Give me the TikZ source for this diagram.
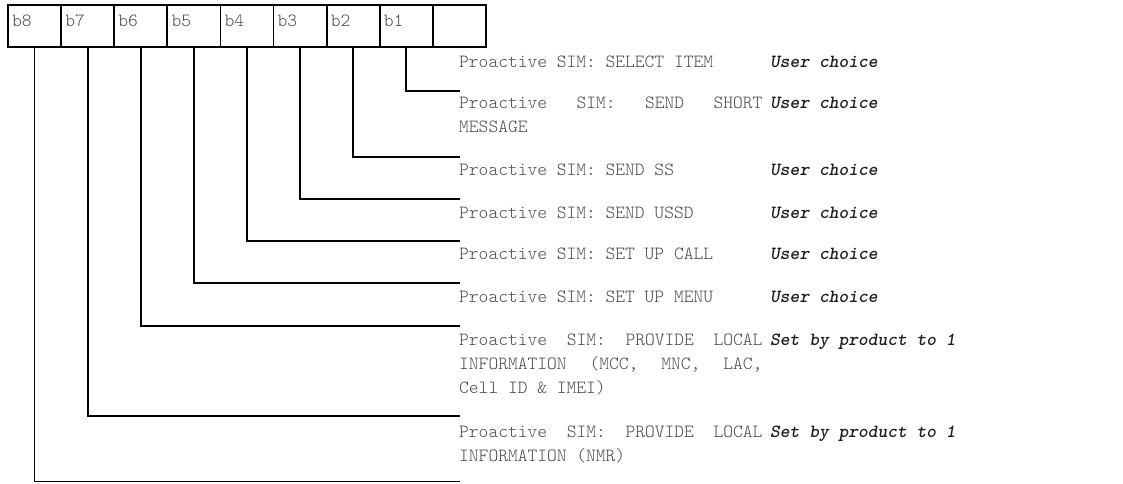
\documentclass[tikz,border=0pt]{standalone}
\usepackage{fontspec}
\newfontfamily\cmono[Extension=.otf, UprightFont=lmmonolt10-regular,
  BoldFont=lmmonolt10-bold, ItalicFont=lmmonolt10-oblique,
  BoldItalicFont=lmmonolt10-boldoblique]{lmmonolt10-regular}
\newcommand\fixdims{\fontdimen2\font=0.525em\relax\fontdimen3\font=0pt\relax\fontdimen4\font=0pt\relax\fontdimen7\font=0pt\relax}
\newcommand\monosz{\cmono\fontsize{18.6}{24}\selectfont\fixdims}
\newcommand\monobi{\cmono\bfseries\itshape\fontsize{18.6}{24}\selectfont\fixdims}
\definecolor{txtgray}{HTML}{4A4A4A}
\definecolor{boldgray}{HTML}{1E1E1E}
\begin{document}
\begin{tikzpicture}[x=1pt,y=-1pt,
  cell/.style={draw, line width=1.8pt, minimum width=53.1pt, minimum height=42pt,
    anchor=north west, inner sep=0pt, outer sep=0pt},
  celltext/.style={anchor=base west, inner sep=0pt, text=txtgray, font=\monosz},
  desc/.style={anchor=base west, inner sep=0pt, text=txtgray, text width=303.2pt,
    font=\monosz, execute at begin node={\spaceskip=0.525em\xspaceskip=0.525em\relax}},
  val/.style={anchor=base west, inner sep=0pt, text=boldgray, font=\monobi},
  conn/.style={draw, line width=1.8pt}]
\useasboundingbox (0,0) rectangle (1123,483);
% bit cells
\foreach \i/\n/\t in {0/c8/b8,1/c7/b7,2/c6/b6,3/c5/b5,4/c4/b4,5/c3/b3,6/c2/b2,7/c1/b1}{
  \node[cell] (\n) at ({8+53.1*\i},5) {};
  \node[celltext] (l\n) at ({12+53.1*\i},26.5) {\t};
}
\node[cell] (c0) at ({8+53.1*8},5) {};
% descriptions
\node[desc] (t1) at (459,67) {Proactive SIM: SELECT ITEM};
\node[val]  (v1) at (770,67) {User choice};
\node[desc] (t2) at (459,108) {\makebox[\linewidth][l]{Proactive\hfill SIM:\hfill SEND\hfill SHORT}\\MESSAGE};
\node[val]  (v2) at (770,108) {User choice};
\node[desc] (t3) at (459,175) {Proactive SIM: SEND SS};
\node[val]  (v3) at (770,175) {User choice};
\node[desc] (t4) at (459,218) {Proactive SIM: SEND USSD};
\node[val]  (v4) at (770,218) {User choice};
\node[desc] (t5) at (459,259) {Proactive SIM: SET UP CALL};
\node[val]  (v5) at (770,259) {User choice};
\node[desc] (t6) at (459,302) {Proactive SIM: SET UP MENU};
\node[val]  (v6) at (770,302) {User choice};
\node[desc] (t7) at (459,345) {\makebox[\linewidth][l]{Proactive\hfill SIM:\hfill PROVIDE\hfill LOCAL}\\\makebox[\linewidth][l]{INFORMATION\hfill (MCC,\hfill MNC,\hfill LAC,}\\Cell ID \& IMEI)};
\node[val]  (v7) at (770,345) {Set by product to 1};
\node[desc] (t8) at (459,437) {\makebox[\linewidth][l]{Proactive\hfill SIM:\hfill PROVIDE\hfill LOCAL}\\INFORMATION (NMR)};
\node[val]  (v8) at (770,437) {Set by product to 1};
% connector ends
\coordinate (e1) at (460,91);
\coordinate (e2) at (460,157);
\coordinate (e3) at (460,199);
\coordinate (e4) at (460,241);
\coordinate (e5) at (460,283);
\coordinate (e6) at (460,326);
\coordinate (e7) at (460,416);
\coordinate (e8) at (460,481.5);
\foreach \k in {1,...,8}{
  \draw[conn] (c\k.south) |- (e\k);
}
\end{tikzpicture}
\end{document}
